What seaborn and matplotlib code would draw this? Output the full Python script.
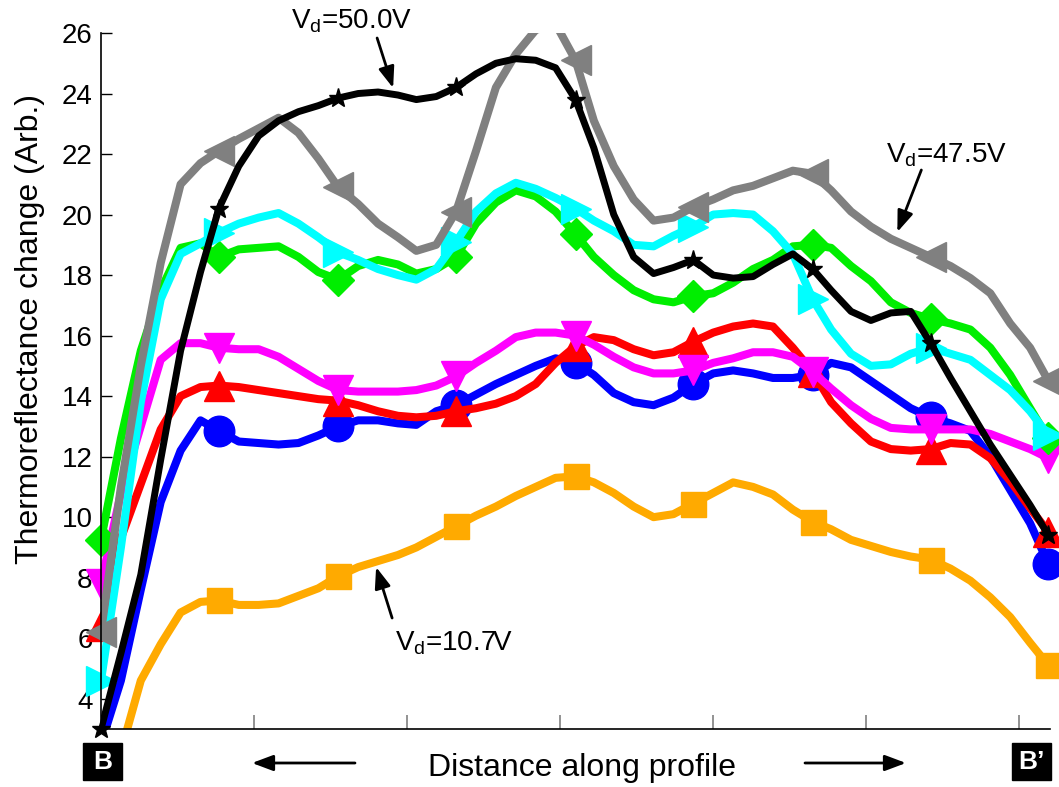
import numpy as np
import pandas as pd
import matplotlib
matplotlib.use("Agg")
import matplotlib.pyplot as plt
from matplotlib.patches import Rectangle, FancyArrowPatch
import seaborn as sns

# ---- data ----
distance = [0, 0.13, 0.26, 0.39, 0.52, 0.65, 0.77, 0.90, 1.03, 1.16, 1.29, 1.42, 1.55,
            1.68, 1.81, 1.94, 2.06, 2.19, 2.32, 2.45, 2.58, 2.71, 2.84, 2.97, 3.10,
            3.22, 3.35, 3.48, 3.61, 3.74, 3.87, 4.00, 4.13, 4.26, 4.39, 4.52, 4.65,
            4.77, 4.90, 5.03, 5.16, 5.29, 5.42, 5.55, 5.68, 5.81, 5.94, 6.07, 6.19]

v_orange = [0.3, 2.25, 4.6, 5.8, 6.85, 7.2, 7.25, 7.1, 7.1, 7.15, 7.4, 7.65, 8.05, 8.35,
            8.55, 8.75, 9.0, 9.35, 9.7, 10.05, 10.35, 10.7, 11.0, 11.3, 11.35, 11.15,
            10.8, 10.35, 10.0, 10.1, 10.45, 10.8, 11.15, 11.0, 10.75, 10.25, 9.85, 9.6,
            9.25, 9.05, 8.85, 8.7, 8.6, 8.3, 7.9, 7.35, 6.7, 5.85, 5.1]
v_blue = [2.5, 4.6, 7.6, 10.5, 12.2, 13.2, 12.85, 12.5, 12.45, 12.4, 12.45, 12.7, 13.0,
          13.2, 13.2, 13.1, 13.05, 13.5, 13.7, 14.05, 14.4, 14.7, 15.0, 15.25, 15.1,
          14.7, 14.1, 13.8, 13.7, 13.95, 14.4, 14.75, 14.85, 14.75, 14.6, 14.6, 14.7,
          15.1, 14.95, 14.5, 14.05, 13.6, 13.3, 13.1, 12.85, 12.0, 10.9, 9.8, 8.45]
v_red = [6.4, 9.3, 11.1, 12.9, 14.0, 14.3, 14.35, 14.3, 14.2, 14.1, 14.0, 13.9, 13.85,
         13.7, 13.5, 13.35, 13.3, 13.35, 13.5, 13.6, 13.75, 14.0, 14.4, 15.1, 15.65,
         15.95, 15.85, 15.55, 15.35, 15.45, 15.8, 16.1, 16.3, 16.4, 16.3, 15.6, 14.8,
         13.8, 13.1, 12.5, 12.25, 12.2, 12.25, 12.45, 12.4, 11.95, 11.2, 10.3, 9.5]
v_magenta = [7.8, 10.8, 13.0, 15.2, 15.75, 15.75, 15.6, 15.55, 15.55, 15.3, 14.9, 14.5,
             14.2, 14.15, 14.15, 14.15, 14.2, 14.35, 14.65, 15.1, 15.5, 15.95, 16.1,
             16.1, 16.0, 15.7, 15.3, 14.95, 14.75, 14.75, 14.85, 15.1, 15.25, 15.45,
             15.45, 15.3, 14.8, 14.25, 13.7, 13.25, 12.95, 12.9, 12.9, 12.9, 12.9,
             12.75, 12.5, 12.25, 11.95]
v_green = [9.25, 12.6, 15.5, 17.5, 18.9, 19.05, 18.6, 18.85, 18.9, 18.95, 18.6, 18.1,
           17.85, 18.3, 18.5, 18.35, 18.05, 18.2, 18.6, 19.7, 20.4, 20.8, 20.6, 20.1,
           19.35, 18.6, 18.0, 17.5, 17.2, 17.1, 17.3, 17.4, 17.75, 18.2, 18.5, 18.95,
           19.0, 18.9, 18.3, 17.8, 17.1, 16.75, 16.55, 16.4, 16.2, 15.6, 14.7, 13.6, 12.6]
v_cyan = [4.6, 9.0, 13.8, 17.2, 18.7, 19.05, 19.4, 19.7, 19.9, 20.05, 19.7, 19.25, 18.75,
          18.5, 18.2, 18.0, 17.85, 18.2, 19.1, 20.1, 20.7, 21.05, 20.85, 20.55, 20.2,
          19.8, 19.45, 19.0, 18.95, 19.3, 19.6, 20.0, 20.05, 20.0, 19.45, 18.7, 17.2,
          16.2, 15.4, 15.0, 15.05, 15.4, 15.6, 15.4, 15.2, 14.7, 14.2, 13.5, 12.7]
v_gray = [6.2, 11.0, 15.0, 18.4, 21.0, 21.7, 22.1, 22.5, 22.85, 23.2, 22.7, 21.85, 20.9,
          20.35, 19.7, 19.25, 18.8, 19.0, 20.1, 22.1, 24.2, 25.3, 26.1, 26.3, 25.1,
          23.1, 21.6, 20.5, 19.8, 19.9, 20.25, 20.5, 20.8, 20.95, 21.2, 21.45, 21.35,
          20.8, 20.1, 19.6, 19.2, 18.9, 18.6, 18.3, 17.9, 17.4, 16.4, 15.6, 14.5]
v_black = [3.0, 5.5, 8.1, 11.9, 15.5, 18.1, 20.2, 21.6, 22.6, 23.1, 23.4, 23.6, 23.85,
           24.0, 24.05, 23.95, 23.8, 23.9, 24.2, 24.65, 25.0, 25.15, 25.1, 24.85, 23.8,
           22.2, 20.0, 18.6, 18.05, 18.25, 18.5, 18.0, 17.9, 17.95, 18.35, 18.7, 18.2,
           17.5, 16.8, 16.5, 16.75, 16.8, 15.75, 14.6, 13.5, 12.4, 11.4, 10.4, 9.4]

yticks = [4, 6, 8, 10, 12, 14, 16, 18, 20, 22, 24, 26]
xticks = [1, 2, 3, 4, 5, 6]

series = [
    (v_orange, "#FFAA00", "s", 18, 5.8),
    (v_blue, "#0000FF", "o", 22, 5.8),
    (v_red, "#FF0000", "^", 22, 5.8),
    (v_magenta, "#FF00FF", "v", 22, 5.8),
    (v_green, "#00EE00", "D", 16, 5.8),
    (v_cyan, "#00FFFF", ">", 22, 5.8),
    (v_gray, "#808080", "<", 22, 5.8),
    (v_black, "#000000", "*", 14, 5.0),
]

sns.set_theme(style="white")
plt.rcParams["font.family"] = ["Liberation Sans", "DejaVu Sans"]
plt.rcParams["mathtext.default"] = "regular"

W, H = 1059, 787
fig = plt.figure(figsize=(W / 100, H / 100), dpi=100)
ax = fig.add_axes([101 / W, 58 / H, 949 / W, 696 / H])

for i, (vals, col, mk, ms, lw) in enumerate(series):
    n = min(len(distance), len(vals))
    df = pd.DataFrame({"distance": distance[:n], "value": vals[:n]})
    z = 2 + i
    sns.lineplot(data=df, x="distance", y="value", color=col, linewidth=lw,
                 ax=ax, zorder=z, estimator=None, sort=False)
    m = df.iloc[::6]
    m = m[(m["value"] >= 3) & (m["value"] <= 26)]
    ax.plot(m["distance"], m["value"], linestyle="none", marker=mk, ms=ms,
            color=col, mec=col, mew=1, clip_on=False, zorder=z + 0.5)

ax.set_xlim(0, 6.2)
ax.set_ylim(3, 26)
ax.set_yticks(yticks)
ax.set_yticklabels([str(t) for t in yticks], fontsize=20)
ax.set_xticks(xticks)
ax.set_xticklabels([])
ax.set_xlabel("")
ax.set_ylabel("")
ax.tick_params(axis="y", direction="in", length=8, width=1, color="black",
               left=True, pad=6, labelcolor="black")
ax.tick_params(axis="x", direction="in", length=10, width=1.2, color="#808080",
               bottom=True)
for s in ["top", "right"]:
    ax.spines[s].set_visible(False)
for s in ["left", "bottom"]:
    ax.spines[s].set_color("black")
    ax.spines[s].set_linewidth(1.2)
    ax.spines[s].set_zorder(20)

def px2data(px, py):
    return ((px - 101) / 153.0, 26 - (py - 33) / 30.26)

arrow_kw = dict(arrowstyle="-|>,head_length=0.8,head_width=0.3", color="black",
                lw=2, shrinkA=0, shrinkB=0, mutation_scale=16)

labels = [
    ("V$_d$=50.0V", (351, 21), (377, 38), (393, 88)),
    ("V$_d$=47.5V", (946, 155), (921, 170), (897, 232)),
    ("V$_d$=10.7V", (454, 643), (392, 618), (376, 567)),
]
for txt, tpos, tail, head in labels:
    ax.text(*px2data(*tpos), txt, fontsize=20, ha="center", va="center",
            color="black", zorder=30, clip_on=False)
    ax.annotate("", xy=px2data(*head), xytext=px2data(*tail),
                arrowprops=arrow_kw, annotation_clip=False, zorder=30)

# bottom decorations
fig.text(582 / W, 1 - 768 / H, "Distance along profile", fontsize=23,
         ha="center", va="center", color="black")
fig.text(30 / W, 1 - 329 / H, "Thermoreflectance change (Arb.)", fontsize=23,
         ha="center", va="center", rotation=90, color="black")

for x0, lab in [(83, "B"), (1012, "B\u2019")]:
    fig.patches.append(Rectangle((x0 / W, 1 - 780 / H), 39 / W, 37 / H,
                                 transform=fig.transFigure, fc="black", ec="black"))
    fig.text((x0 + 19.5) / W, 1 - 762 / H, lab, color="white", fontsize=19,
             weight="bold", ha="center", va="center")

for tail, head in [((355, 763), (252, 763)), ((805, 763), (906, 763))]:
    fig.add_artist(FancyArrowPatch(
        (tail[0] / W, 1 - tail[1] / H), (head[0] / W, 1 - head[1] / H),
        transform=fig.transFigure, **arrow_kw))

fig.savefig("out.png", dpi=100)
